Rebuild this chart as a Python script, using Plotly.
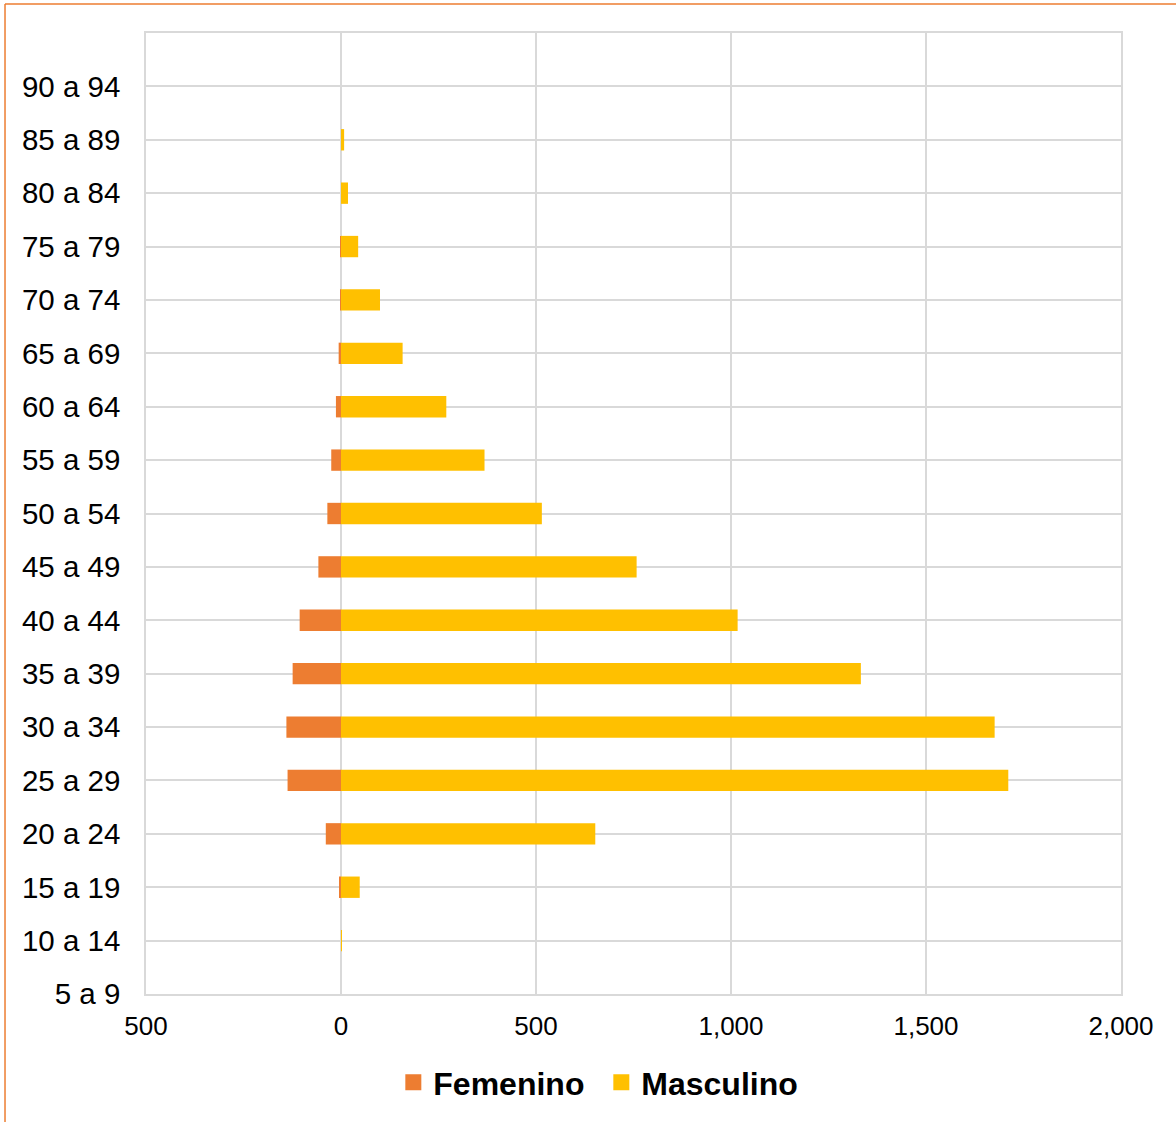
import plotly.graph_objects as go

# age groups, bottom to top
age_groups = ["5 a 9", "10 a 14", "15 a 19", "20 a 24", "25 a 29", "30 a 34",
              "35 a 39", "40 a 44", "45 a 49", "50 a 54", "55 a 59", "60 a 64",
              "65 a 69", "70 a 74", "75 a 79", "80 a 84", "85 a 89", "90 a 94"]

# counts (femenino plotted to the left as negatives)
femenino = [0, 0, 3, 39, 137, 140, 124, 106, 58, 35, 25, 13, 6, 2, 1, 0, 0, 0]
masculino = [0, 2, 48, 652, 1711, 1676, 1333, 1017, 758, 515, 368, 270, 158, 100, 44, 18, 8, 0]

x_ticks = [-500, 0, 500, 1000, 1500, 2000]

FEM_COLOR = "#ED7D31"
MASC_COLOR = "#FFC000"
GRID = "#D9D9D9"
FONT = "Liberation Sans, Arial, sans-serif"

pos = list(range(len(age_groups)))

fig = go.Figure()
fig.add_trace(go.Bar(
    y=pos, x=[-v for v in femenino], orientation="h", name="Femenino",
    marker=dict(color=FEM_COLOR, line=dict(width=0)), width=0.4, showlegend=False,
))
fig.add_trace(go.Bar(
    y=pos, x=masculino, orientation="h", name="Masculino",
    marker=dict(color=MASC_COLOR, line=dict(width=0)), width=0.4, showlegend=False,
))

# legend entries with larger square swatches, like the original
for name, color in [("Femenino", FEM_COLOR), ("Masculino", MASC_COLOR)]:
    fig.add_trace(go.Scatter(
        x=[None], y=[None], mode="markers", name=name,
        marker=dict(symbol="square", size=17, color=color),
    ))

fig.update_layout(
    width=1176, height=1122,
    margin=dict(l=146, r=55, t=33, b=126),
    barmode="relative",
    plot_bgcolor="white", paper_bgcolor="white",
    font=dict(family=FONT, color="black"),
    legend=dict(
        orientation="h", x=0.467, xanchor="center", y=-0.092, yanchor="middle",
        font=dict(size=32, family=FONT, color="black", weight="bold"),
        traceorder="normal", itemclick=False, entrywidth=163,
    ),
    showlegend=True,
)

fig.update_xaxes(
    range=[-500, 2000], tickvals=x_ticks,
    ticktext=[f"{abs(v):,}" for v in x_ticks],
    showgrid=True, gridcolor=GRID, gridwidth=1.5,
    zeroline=True, zerolinecolor=GRID, zerolinewidth=1.5,
    showline=True, linecolor=GRID, linewidth=1.5, mirror=True,
    ticks="", tickfont=dict(size=26, family=FONT, color="black"),
    ticklabelstandoff=8, fixedrange=True,
)
fig.update_yaxes(
    range=[0, len(age_groups)], tickvals=pos, ticktext=age_groups,
    showgrid=True, gridcolor=GRID, gridwidth=1.5, zeroline=False,
    showline=True, linecolor=GRID, linewidth=1.5, mirror=True,
    ticks="", tickfont=dict(size=29.5, family=FONT, color="black"),
    ticklabelstandoff=18, fixedrange=True,
)

# orange chart frame (left and top edges visible in the original)
fig.add_shape(type="line", xref="paper", yref="paper",
              x0=-0.1446, x1=-0.1446, y0=1.0301, y1=-0.14,
              line=dict(color=FEM_COLOR, width=1.5))
fig.add_shape(type="line", xref="paper", yref="paper",
              x0=-0.1446, x1=1.06, y0=1.0301, y1=1.0301,
              line=dict(color=FEM_COLOR, width=1.5))

# drop the default body margin so the figure fills the window
fig.write_html("out.html", config={"displayModeBar": False},
               post_script="document.body.style.margin='0';")
